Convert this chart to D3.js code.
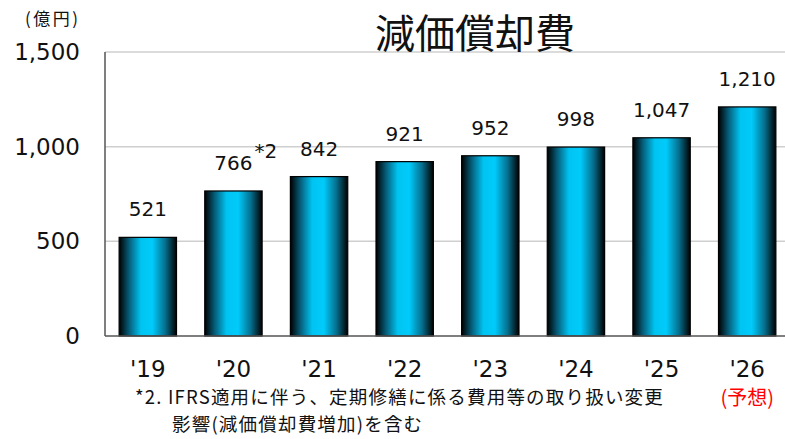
<!DOCTYPE html>
<html><head><meta charset="utf-8">
<script src="https://cdn.jsdelivr.net/npm/d3@7"></script>
<style>
html,body{margin:0;padding:0;background:#fff;}
svg{display:block;}
</style>
</head><body>
<svg id="c" width="785" height="439"></svg>
<script>
const categories = ["'19","'20","'21","'22","'23","'24","'25","'26"];
const values = [521, 766, 842, 921, 952, 998, 1047, 1210];
const yTicks = [0, 500, 1000, 1500];
const title = "減価償却費";
const unitLabel = "(億円)";
const forecastLabel = "(予想)";
const noteMark = "*2";
const footnote = ["*2. IFRS適用に伴う、定期修繕に係る費用等の取り扱い変更", "影響(減価償却費増加)を含む"];

const svg = d3.select("#c");
const latin = "'DejaVu Sans', 'Noto Sans CJK JP', sans-serif";
const cjk = "'Noto Sans CJK JP', 'DejaVu Sans', sans-serif";

const x = d3.scaleBand().domain(categories).range([105, 790]).paddingInner(0.33).paddingOuter(0.165);
const y = d3.scaleLinear().domain([0, 1500]).range([336, 52]);

const defs = svg.append("defs");
const g = defs.append("linearGradient").attr("id","bg").attr("x1","0%").attr("x2","100%").attr("y1","0%").attr("y2","0%");
[[0,"#000000"],[0.18,"#06607d"],[0.38,"#00c4f2"],[0.58,"#00cbfb"],[0.8,"#06708f"],[1,"#000000"]]
  .forEach(([o,c])=>g.append("stop").attr("offset",o).attr("stop-color",c));

// gridlines
svg.append("g").selectAll("line").data(yTicks.filter(d=>d>0)).join("line")
  .attr("x1",105).attr("x2",785).attr("y1",d=>y(d)).attr("y2",d=>y(d))
  .attr("stroke","#cfcfcf").attr("stroke-width",1.5);

// y axis
const yAxis = d3.axisLeft(y).tickValues(yTicks).tickSize(0).tickPadding(25).tickFormat(d3.format(","));
const ya = svg.append("g").attr("transform","translate(105,0)").call(yAxis);
ya.select(".domain").remove();
ya.selectAll("text").attr("font-family",latin).attr("font-size",23).attr("fill","#111");

// bars
svg.append("g").selectAll("rect").data(values).join("rect")
  .attr("x",(d,i)=>x(categories[i])).attr("width",x.bandwidth())
  .attr("y",d=>y(d)).attr("height",d=>y(0)-y(d))
  .attr("fill","url(#bg)").attr("stroke","#000").attr("stroke-width",1.2);

// axis lines
svg.append("line").attr("x1",105).attr("x2",105).attr("y1",52).attr("y2",336).attr("stroke","#555").attr("stroke-width",1.5);
svg.append("line").attr("x1",105).attr("x2",785).attr("y1",336).attr("y2",336).attr("stroke","#555").attr("stroke-width",1.5);

// value labels
svg.append("g").selectAll("text").data(values).join("text")
  .attr("x",(d,i)=>x(categories[i])+x.bandwidth()/2).attr("y",d=>y(d)-21)
  .attr("text-anchor","middle").attr("font-family",latin).attr("font-size",20).attr("fill","#111")
  .text(d3.format(","));
svg.append("text").attr("x",x(categories[1])+x.bandwidth()/2+21).attr("y",y(values[1])-33)
  .attr("font-family",latin).attr("font-size",20).attr("fill","#111").text(noteMark);

// x labels
const xAxis = d3.axisBottom(x).tickSize(0);
const xa = svg.append("g").attr("transform","translate(0,336)").call(xAxis);
xa.select(".domain").remove();
xa.selectAll("text").attr("y",41).attr("dy",0).attr("font-family",latin).attr("font-size",23).attr("fill","#111");

svg.append("text").attr("x",x(categories[7])+x.bandwidth()/2).attr("y",405)
  .attr("text-anchor","middle").attr("font-family",cjk).attr("font-size",20).attr("fill","#ff0000").text(forecastLabel);

// title
svg.append("text").attr("x",475).attr("y",48).attr("text-anchor","middle")
  .attr("font-family",cjk).attr("font-size",40).attr("fill","#111").text(title);

// unit
svg.append("text").attr("x",25).attr("y",25)
  .attr("font-family",cjk).attr("font-size",17).attr("letter-spacing",2.5).attr("fill","#111").text(unitLabel);

// footnote
svg.append("text").attr("x",135).attr("y",404).attr("font-family",cjk).attr("font-size",18.5).attr("letter-spacing",1.2).attr("fill","#111").text(footnote[0]);
svg.append("text").attr("x",172).attr("y",431).attr("font-family",cjk).attr("font-size",18.5).attr("letter-spacing",1.2).attr("fill","#111").text(footnote[1]);
</script>
</body></html>
